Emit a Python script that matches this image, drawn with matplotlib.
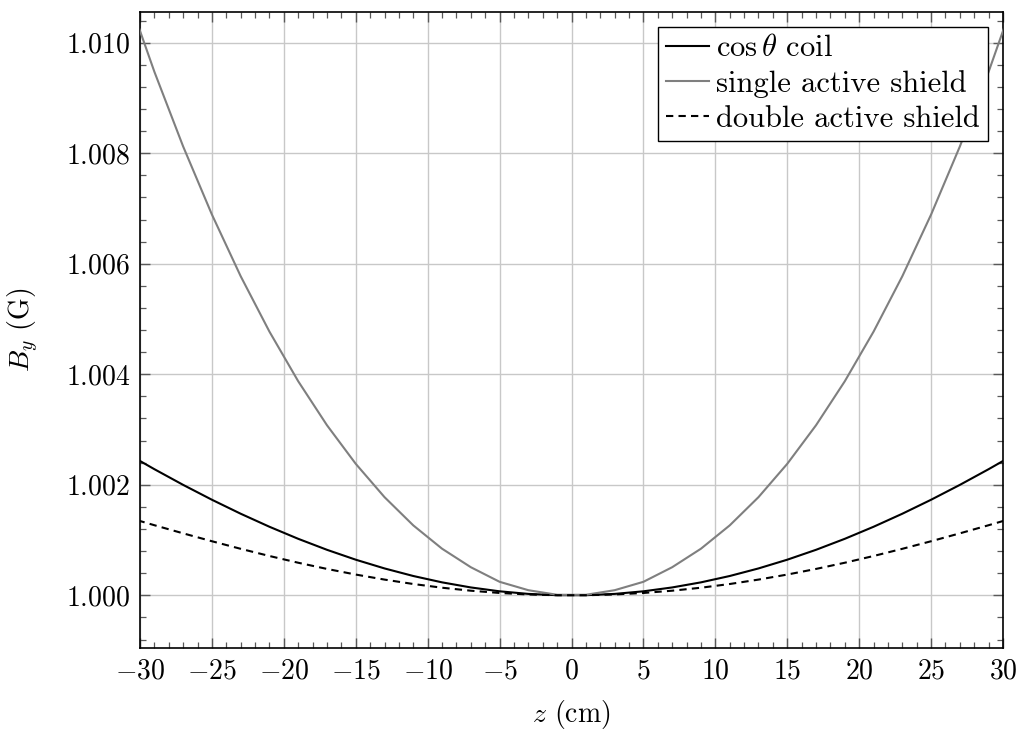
import matplotlib
matplotlib.use('Agg')
import matplotlib.pyplot as plt
from matplotlib.ticker import MultipleLocator, FuncFormatter

# samples of the three field profiles (z in cm, B_y in G)
z = [-31, -29, -27, -25, -23, -21, -19, -17, -15, -13, -11, -9, -7, -5, -3, -1,
     1, 3, 5, 7, 9, 11, 13, 15, 17, 19, 21, 23, 25, 27, 29, 31]

cos_coil = [1.002580, 1.002283, 1.001999, 1.001730, 1.001477, 1.001241, 1.001023, 1.000824,
            1.000645, 1.000487, 1.000350, 1.000235, 1.000143, 1.000073, 1.000026, 1.000003,
            1.000003, 1.000026, 1.000073, 1.000143, 1.000235, 1.000350, 1.000487, 1.000645,
            1.000824, 1.001023, 1.001241, 1.001477, 1.001730, 1.001999, 1.002283, 1.002580]

single_shield = [1.010956, 1.009475, 1.008123, 1.006891, 1.005775, 1.004772, 1.003874, 1.003078,
                 1.002380, 1.001777, 1.001266, 1.000844, 1.000509, 1.000245, 1.000093, 1.000010,
                 1.000010, 1.000093, 1.000245, 1.000509, 1.000844, 1.001266, 1.001777, 1.002380,
                 1.003078, 1.003874, 1.004772, 1.005775, 1.006891, 1.008123, 1.009475, 1.010956]

double_shield = [1.001421, 1.001269, 1.001122, 1.000979, 1.000842, 1.000712, 1.000590, 1.000478,
                 1.000376, 1.000285, 1.000205, 1.000138, 1.000084, 1.000043, 1.000016, 1.000002,
                 1.000002, 1.000016, 1.000043, 1.000084, 1.000138, 1.000205, 1.000285, 1.000376,
                 1.000478, 1.000590, 1.000712, 1.000842, 1.000979, 1.001122, 1.001269, 1.001421]

plt.rcParams['font.family'] = ['cmr10']
plt.rcParams['mathtext.fontset'] = 'cm'
plt.rcParams['axes.formatter.use_mathtext'] = True
plt.rcParams['font.size'] = 20

fig = plt.figure(figsize=(10.21, 7.29), dpi=100)
ax = fig.add_axes([0.1371, 0.1111, 0.8453, 0.8724])

ax.plot(z, cos_coil, color='black', lw=1.5, label=r'$\cos\theta$ coil', zorder=3)
ax.plot(z, single_shield, color='#7f7f7f', lw=1.5, label='single active shield', zorder=3)
ax.plot(z, double_shield, color='black', lw=1.5, linestyle=(0, (3.5, 2.5)),
        label='double active shield', zorder=3)

ax.set_xlim(-30, 30)
ax.set_ylim(0.999047, 1.010555)

ax.xaxis.set_major_locator(MultipleLocator(5))
ax.xaxis.set_minor_locator(MultipleLocator(1))
ax.yaxis.set_major_locator(MultipleLocator(0.002))
ax.yaxis.set_minor_locator(MultipleLocator(0.0004))
ax.xaxis.set_major_formatter(FuncFormatter(lambda v, p: '$%d$' % round(v)))
ax.yaxis.set_major_formatter(FuncFormatter(lambda v, p: '$%.3f$' % v))

ax.tick_params(which='both', direction='in', top=True, right=True, color='0.35')
ax.tick_params(which='major', length=7.5, width=1.0, pad=7, labelsize=20)
ax.tick_params(which='minor', length=4.5, width=0.9)

ax.grid(True, which='major', color='#c8c8c8', lw=1.0)
ax.set_axisbelow(True)
for s in ax.spines.values():
    s.set_linewidth(1.2)
    s.set_color('black')

ax.set_xlabel(r'$z$ (cm)', fontsize=20, labelpad=10)
ax.set_ylabel(r'$B_y$ (G)', fontsize=20, labelpad=18)

leg = ax.legend(loc='upper right', fontsize=22, handlelength=1.4, handletextpad=0.25,
                borderpad=0.25, labelspacing=0.25, borderaxespad=0.5, fancybox=False,
                framealpha=1.0, edgecolor='black')
leg.get_frame().set_linewidth(1.0)

plt.savefig('out.png', dpi=100)
